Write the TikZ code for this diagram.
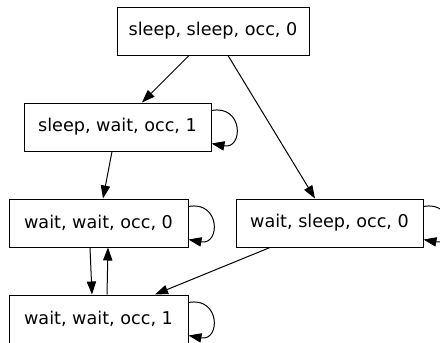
\documentclass[tikz,border=0pt]{standalone}
\usepackage{fontspec}
\setmainfont{DejaVu Sans}
\usetikzlibrary{arrows.meta}
\begin{document}
\begin{tikzpicture}[x=1pt,y=-1pt,
  state/.style={draw,line width=1pt,rectangle,inner sep=0pt,minimum height=48pt,
    font=\fontsize{17.6}{20}\selectfont},
  edge/.style={line width=1pt,-{Triangle[length=13pt,width=9.3pt]}},
  loopedge/.style={edge}]
\useasboundingbox (0,0) rectangle (440,343);
\node[state,minimum width=192pt] (A) at (213,31) {sleep, sleep, occ, 0};
\node[state,minimum width=187pt] (B) at (117.5,127) {sleep, wait, occ, 1};
\node[state,minimum width=179pt] (C) at (98.5,223) {wait, wait, occ, 0};
\node[state,minimum width=187pt] (D) at (329.5,223) {wait, sleep, occ, 0};
\node[state,minimum width=179pt] (E) at (98.5,319) {wait, wait, occ, 1};
\draw[edge] ([xshift=-24pt]A.south) -- ([xshift=24.5pt]B.north);
\draw[edge] ([xshift=15pt]A.south) -- ([xshift=-14.5pt]D.north);
\draw[edge] ([xshift=-5.5pt]B.south) -- ([xshift=4.5pt]C.north);
\draw[edge] ([xshift=-8.5pt]C.south) -- ([xshift=-6.5pt]E.north);
\draw[edge] ([xshift=8.5pt]E.north) -- ([xshift=9.5pt]C.south);
\draw[edge] ([xshift=-59.5pt]D.south) -- ([xshift=56.5pt]E.north);
\foreach \n in {B,C,D,E}{
  \draw[loopedge] ([yshift=-8pt]\n.north east) .. controls +(32,-6) and +(32,6) .. ([yshift=8pt]\n.south east);
}
\end{tikzpicture}
\end{document}
